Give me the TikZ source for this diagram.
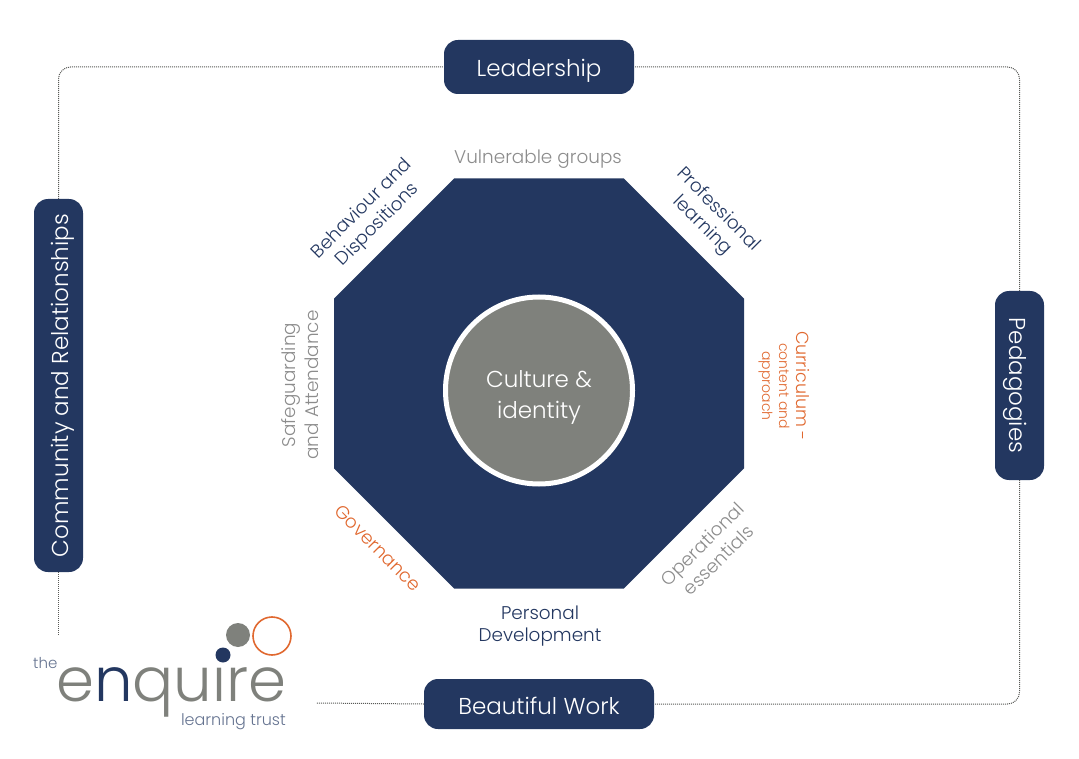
\documentclass[tikz,border=0pt]{standalone}
\usepackage{xcolor}
\usepackage{fontspec}
\setmainfont{Poppins}[UprightFont=* Light]
\usetikzlibrary{shapes.geometric, positioning}
\definecolor{navy}{HTML}{233760}
\definecolor{stone}{HTML}{7F817C}
\definecolor{ash}{HTML}{8C8C8C}
\definecolor{rust}{HTML}{E0682F}
\tikzstyle{pillar} = [rectangle, rounded corners=14pt, fill=navy, text=white, font=\fontsize{23}{27}\selectfont, inner sep=0pt, align=center, text height=20pt, text depth=0pt]
\tikzstyle{theme} = [inner sep=0pt, align=center, font=\fontsize{18.4}{22.5}\selectfont]
\tikzstyle{frameline} = [dash pattern=on 1pt off 1pt, line width=1pt, draw=stone!70!black, rounded corners=12pt]

\begin{document}
\begin{tikzpicture}[x=1pt, y=-1pt]
    \useasboundingbox (0,0) rectangle (1079,759);

    % Centre
    \node[regular polygon, regular polygon sides=8, minimum size=443.8pt, inner sep=0pt, fill=navy] (octagon) at (539,383.5) {};
    \node[circle, minimum size=187pt, inner sep=0pt, fill=stone, draw=white, line width=5pt] (culture) at (539,390.5) {};
    \node[text=white, align=center, inner sep=0pt, font=\fontsize{23}{31}\selectfont] (culturetext) at (539,397) {Culture \&\\identity};

    % Pillars
    \node[pillar, minimum width=190pt, minimum height=54pt] (leadership) at (539,67) {Leadership};
    \node[pillar, minimum width=230pt, minimum height=50pt] (beautiful) at (539,704) {Beautiful Work};
    \node[pillar, rotate=90, minimum width=373pt, minimum height=49pt] (community) at (58.5,385.5) {Community and Relationships};
    \node[pillar, rotate=-90, minimum width=189pt, minimum height=49pt] (pedagogies) at (1019.5,385.5) {Pedagogies};

    % Themes
    \node[theme, text=ash] (vulnerable) at (538,159) {Vulnerable groups};
    \node[theme, text=navy, rotate=-45] (professional) at (710,218) {Professional\\learning};
    \node[theme, text=rust, rotate=-90, font=\fontsize{14}{17}\selectfont] (curriculum) at (784,386) {{\fontsize{17.5}{22}\selectfont Curriculum -}\\content and\\approach};
    \node[theme, text=ash, rotate=45] (operational) at (710,552) {Operational\\essentials};
    \node[theme, text=navy] (personal) at (540,626) {Personal\\Development};
    \node[theme, text=rust, rotate=-45] (governance) at (378,548) {Governance};
    \node[theme, text=ash, rotate=90] (safeguarding) at (300,385) {Safeguarding\\and Attendance};
    \node[theme, text=navy, rotate=45] (behaviour) at (370,217) {Behaviour and\\Dispositions};

    % Logo
    \node[circle, minimum size=24pt, inner sep=0pt, fill=stone] (logogrey) at (238,635) {};
    \node[circle, minimum size=38pt, inner sep=0pt, draw=rust, line width=1.6pt] (logoring) at (272,636) {};
    \node[circle, minimum size=15pt, inner sep=0pt, fill=navy] (logonavy) at (223,655) {};
    \node[inner sep=0pt, anchor=base west, text=stone, font=\fontsize{61}{61}\selectfont] (enquire) at (56,701) {e{\color{navy}n}quıre};
    \node[inner sep=0pt, anchor=base west, text=navy!70!white, font=\fontsize{15}{18}\selectfont] (the) at (33,668) {the};
    \node[inner sep=0pt, anchor=base east, text=navy!70!white, font=\fontsize{16}{18}\selectfont] (trust) at (286,725) {learning trust};

    % Frame
    \coordinate (logotop) at (58.5,636);
    \coordinate (logoright) at (316,703);
    \draw[frameline] (community.east) |- (leadership.west);
    \draw[frameline] (pedagogies.west) |- (leadership.east);
    \draw[frameline] (pedagogies.east) |- (beautiful.east);
    \draw[frameline] (community.west) -- (logotop);
    \draw[frameline] (beautiful.west) -- (logoright);

\end{tikzpicture}
\end{document}
